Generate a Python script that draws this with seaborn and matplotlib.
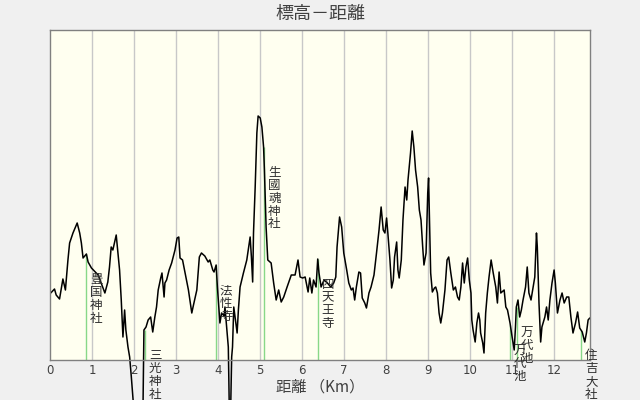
import matplotlib
matplotlib.use("Agg")
import matplotlib.pyplot as plt
import seaborn as sns
import pandas as pd

# 距離 (km) と 標高 (m)
dist = [0.01, 0.10, 0.14, 0.22, 0.30, 0.36, 0.42, 0.46, 0.54, 0.64, 0.70, 0.74, 0.78, 0.86, 0.90,
        0.98, 1.14, 1.21, 1.30, 1.37, 1.41, 1.45, 1.49, 1.57, 1.61, 1.65, 1.69, 1.73, 1.77, 1.80,
        1.85, 1.89, 1.93, 1.97, 2.09, 2.21, 2.23, 2.28, 2.33, 2.39, 2.44, 2.49, 2.53, 2.57, 2.63,
        2.66, 2.71, 2.73, 2.77, 2.83, 2.89, 2.97, 3.02, 3.06, 3.09, 3.15, 3.21, 3.29, 3.37, 3.40,
        3.49, 3.55, 3.60, 3.68, 3.76, 3.80, 3.87, 3.90, 3.95, 3.98, 4.04, 4.08, 4.14, 4.16, 4.20,
        4.24, 4.26, 4.27, 4.30, 4.32, 4.34, 4.37, 4.40, 4.45, 4.48, 4.52, 4.60, 4.68, 4.76, 4.79,
        4.82, 4.84, 4.88, 4.92, 4.95, 5.00, 5.04, 5.08, 5.10, 5.14, 5.18, 5.26, 5.32, 5.38, 5.44,
        5.50, 5.56, 5.64, 5.74, 5.83, 5.90, 5.95, 6.01, 6.07, 6.14, 6.18, 6.23, 6.27, 6.33, 6.35,
        6.37, 6.40, 6.45, 6.52, 6.60, 6.68, 6.75, 6.80, 6.83, 6.89, 6.94, 6.99, 7.06, 7.11, 7.17,
        7.21, 7.25, 7.29, 7.35, 7.39, 7.43, 7.49, 7.53, 7.59, 7.64, 7.71, 7.77, 7.83, 7.88, 7.93,
        7.97, 8.01, 8.04, 8.09, 8.13, 8.17, 8.20, 8.25, 8.28, 8.31, 8.36, 8.40, 8.45, 8.49, 8.52,
        8.58, 8.62, 8.66, 8.70, 8.75, 8.79, 8.83, 8.87, 8.90, 8.95, 8.99, 9.01, 9.04, 9.06, 9.10,
        9.15, 9.18, 9.22, 9.26, 9.30, 9.34, 9.40, 9.45, 9.49, 9.54, 9.60, 9.65, 9.70, 9.74, 9.78,
        9.82, 9.86, 9.90, 9.94, 9.98, 10.02, 10.04, 10.07, 10.12, 10.16, 10.20, 10.23, 10.25, 10.30, 10.33,
        10.37, 10.41, 10.45, 10.50, 10.55, 10.61, 10.65, 10.69, 10.73, 10.81, 10.85, 10.89, 10.95, 11.00, 11.05,
        11.08, 11.10, 11.14, 11.18, 11.22, 11.26, 11.32, 11.36, 11.40, 11.45, 11.50, 11.54, 11.58, 11.60, 11.64,
        11.68, 11.71, 11.78, 11.82, 11.86, 11.90, 11.95, 12.00, 12.03, 12.08, 12.14, 12.19, 12.24, 12.30, 12.35,
        12.40, 12.45, 12.51, 12.56, 12.61, 12.67, 12.73, 12.77, 12.81, 12.85]
elev = [6.7, 7.1, 6.5, 6.1, 8.1, 7.0, 10.0, 11.7, 12.7, 13.7, 12.7, 11.7, 10.2, 10.6, 9.8,
        9.2, 8.5, 7.7, 6.7, 7.8, 9.3, 11.3, 11.0, 12.5, 10.8, 9.0, 6.0, 2.3, 5.0, 3.0,
        1.3, 0.3, -1.7, -4.0, -7.0, -4.0, 3.0, 3.3, 4.0, 4.3, 2.8, 4.3, 5.3, 7.0, 8.2,
        8.7, 6.3, 7.7, 8.0, 9.0, 9.7, 11.0, 12.2, 12.3, 10.2, 10.0, 8.7, 7.0, 4.7, 5.3,
        7.0, 10.3, 10.7, 10.4, 9.8, 10.0, 9.0, 8.8, 9.5, 7.3, 3.7, 4.7, 4.4, 5.3, 3.3,
        1.3, -4.0, -6.0, -4.0, 0.3, 1.3, 5.3, 4.3, 2.7, 5.0, 7.3, 8.7, 10.0, 12.3, 10.3,
        7.8, 12.7, 17.3, 22.7, 24.4, 24.2, 23.3, 21.3, 19.0, 13.3, 10.0, 9.7, 7.7, 6.0, 7.0,
        5.8, 6.3, 7.3, 8.5, 8.5, 10.0, 8.3, 8.2, 8.3, 6.8, 8.2, 6.7, 8.0, 7.3, 8.7,
        10.1, 8.7, 7.3, 8.0, 7.7, 7.3, 7.7, 8.3, 11.3, 14.3, 13.3, 10.7, 9.0, 7.7, 7.0,
        7.2, 6.0, 7.3, 8.8, 8.7, 6.2, 5.7, 5.2, 6.7, 7.3, 8.5, 10.7, 13.0, 15.3, 13.0,
        12.7, 14.2, 12.7, 10.0, 7.2, 8.0, 10.3, 11.8, 9.0, 8.2, 10.0, 14.0, 17.3, 16.0, 18.0,
        20.7, 22.9, 21.3, 19.0, 17.3, 15.0, 14.0, 11.3, 9.5, 10.7, 16.7, 18.2, 12.3, 8.7, 6.8,
        7.2, 7.3, 6.7, 4.7, 3.7, 4.7, 7.0, 10.0, 10.3, 8.7, 7.0, 7.3, 6.3, 6.0, 7.3,
        9.7, 7.7, 9.3, 10.2, 8.0, 6.7, 4.0, 3.0, 1.8, 3.7, 4.7, 4.0, 2.7, 1.7, 0.7,
        4.7, 6.7, 8.3, 10.0, 8.7, 7.3, 5.7, 8.8, 6.7, 7.0, 5.3, 5.0, 3.7, 2.3, 1.0,
        3.3, 5.3, 6.0, 4.3, 5.0, 6.0, 7.3, 9.3, 6.7, 6.0, 7.3, 8.3, 12.7, 11.3, 5.7,
        1.8, 3.3, 4.3, 5.3, 4.0, 6.0, 7.7, 9.0, 7.7, 4.7, 6.0, 6.7, 5.7, 6.3, 6.3,
        4.3, 2.7, 3.7, 4.8, 3.2, 2.8, 1.8, 2.7, 4.0, 4.2]

# landmarks along the route
spot_names = ["豊国神社", "三光神社", "法性寺", "生國魂神社", "四天王寺", "万代池", "万代池", "住吉大社"]
spot_dist = [0.86, 2.26, 3.95, 5.10, 6.37, 10.95, 11.12, 12.65]
spot_elev = [10.6, 3.0, 9.5, 21.3, 10.1, 3.5, 5.3, 3.0]

df = pd.DataFrame({"dist": dist, "elev": elev})

sns.set_style("white")
plt.rcParams["font.family"] = ["Noto Sans CJK JP", "DejaVu Sans"]

fig = plt.figure(figsize=(6.4, 4.0), dpi=100, facecolor="#f0f0f0")
ax = fig.add_axes([0.0786, 0.1, 0.8434, 0.825])
ax.set_facecolor("#fffff0")

for x in range(1, 13):
    ax.axvline(x, color="#c8c8c8", linewidth=1, zorder=0)

ax.vlines(spot_dist, 0, spot_elev, color="#88d888", linewidth=1, zorder=1)

sns.lineplot(data=df, x="dist", y="elev", ax=ax, color="black", linewidth=1.1,
             sort=False, estimator=None, clip_on=False, zorder=2)

for name, d, e in zip(spot_names, spot_dist, spot_elev):
    ax.annotate("\n".join(name), xy=(d, e), xytext=(7.2, -14), textcoords="offset points",
                ha="center", va="top", fontsize=9, linespacing=0.97, color="#303030",
                annotation_clip=False, zorder=3)

ax.set_xlim(0, 12.857)
ax.set_ylim(0, 33)
ax.set_xticks(range(13))
ax.set_yticks([])
ax.tick_params(axis="x", length=0, pad=3, labelsize=8.5, labelcolor="#404040")
for lab in ax.get_xticklabels():
    lab.set_family("DejaVu Sans")
for s in ax.spines.values():
    s.set_color("#808080")
    s.set_linewidth(1)

ax.set_xlabel("距離 （Km）", fontsize=11, color="#404040", labelpad=1)
ax.set_ylabel("")
fig.text(0.5, 0.965, "標高－距離", ha="center", va="center", fontsize=13, color="#404040")

fig.savefig("out.png", dpi=100, facecolor=fig.get_facecolor())
